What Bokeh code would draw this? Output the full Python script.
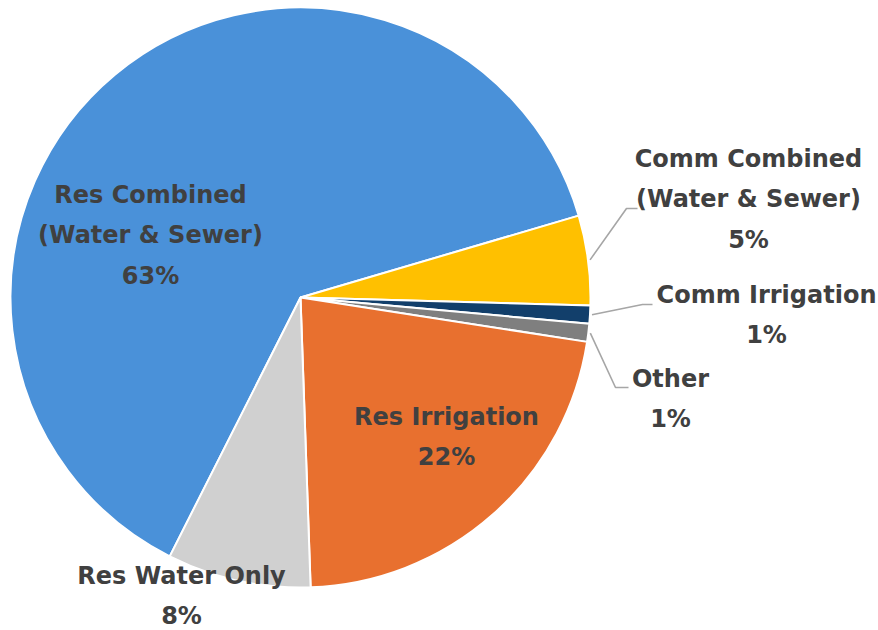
import math

from bokeh.core.properties import value
from bokeh.embed import file_html
from bokeh.models import ColumnDataSource, Range1d
from bokeh.plotting import figure
from bokeh.resources import INLINE

# ---- data -------------------------------------------------------------
categories = [
    "Res Combined\n(Water & Sewer)",
    "Comm Combined\n(Water & Sewer)",
    "Comm Irrigation",
    "Other",
    "Res Irrigation",
    "Res Water Only",
]
shares = [63, 5, 1, 1, 22, 8]
colors = ["#4A91D9", "#FFC000", "#123F6B", "#7F7F7F", "#E8702F", "#D0D0D0"]

# ---- layout -----------------------------------------------------------
W, H = 878, 630
CX, CY, R = 300, 297, 290          # pie centre / radius (pixels from top-left)
START_DEG = 243.2                  # first slice starts here, slices run clockwise
LINE_STEP = 40.5                   # distance between label lines
TEXT_SHIFT = 9                     # the svg backend draws text a little low
# label block anchor: centre x, baseline of first line (pixels from top)
label_anchor = {
    "Res Combined\n(Water & Sewer)": (150, 203),
    "Comm Combined\n(Water & Sewer)": (748, 167),
    "Comm Irrigation": (766, 303),
    "Other": (670, 387),
    "Res Irrigation": (446, 425),
    "Res Water Only": (181, 584),
}
# leader lines: elbow point and end point for labels outside the pie
leader_path = {
    "Comm Combined\n(Water & Sewer)": [(626, 208), (637, 208)],
    "Comm Irrigation": [(642, 304), (652, 304)],
    "Other": [(615, 387), (628, 387)],
}

TEXT_COLOR = "#404040"
FONT = "DejaVu Sans"
FONT_SIZE = "24px"


def fy(y):
    """Convert a top-down pixel y into the figure's bottom-up data y."""
    return H - y


p = figure(
    width=W, height=H,
    x_range=Range1d(0, W), y_range=Range1d(0, H),
    x_axis_location=None, y_axis_location=None,
    output_backend="svg", toolbar_location=None,
    min_border=0,
)
p.grid.visible = False
p.outline_line_color = None
p.background_fill_color = "white"
p.border_fill_color = "white"

# ---- wedges -----------------------------------------------------------
total = float(sum(shares))
starts, ends, mids = [], [], []
acc = 0.0
for s in shares:
    a0 = math.radians(START_DEG - acc / total * 360.0)
    acc += s
    a1 = math.radians(START_DEG - acc / total * 360.0)
    # clockwise slice from a0 to a1 == anticlockwise from a1 to a0
    starts.append(a1)
    ends.append(a0)
    mids.append((a0 + a1) / 2)

wedges = ColumnDataSource(dict(
    x=[CX] * len(shares), y=[fy(CY)] * len(shares),
    start=starts, end=ends, color=colors,
))
p.wedge(x="x", y="y", radius=R, start_angle="start", end_angle="end",
        fill_color="color", line_color="white", line_width=2, source=wedges)

# ---- leader lines -----------------------------------------------------
for cat, mid in zip(categories, mids):
    if cat not in leader_path:
        continue
    sx = CX + (R + 2) * math.cos(mid)
    sy = fy(CY) + (R + 2) * math.sin(mid)
    xs = [sx] + [pt[0] for pt in leader_path[cat]]
    ys = [sy] + [fy(pt[1]) for pt in leader_path[cat]]
    p.line(xs, ys, line_color="#A6A6A6", line_width=1.6)

# ---- labels -----------------------------------------------------------
tx, ty, tt = [], [], []
for cat, s in zip(categories, shares):
    lines = cat.split("\n") + [f"{s}%"]
    ax, ay = label_anchor[cat]
    for i, ln in enumerate(lines):
        tx.append(ax)
        ty.append(fy(ay + i * LINE_STEP - TEXT_SHIFT))
        tt.append(ln)

p.text(x=tx, y=ty, text=tt, text_font=value(FONT), text_font_style="bold",
       text_font_size=FONT_SIZE, text_color=TEXT_COLOR,
       text_align="center", text_baseline="alphabetic")

open("out.html", "w").write(file_html(p, INLINE))
